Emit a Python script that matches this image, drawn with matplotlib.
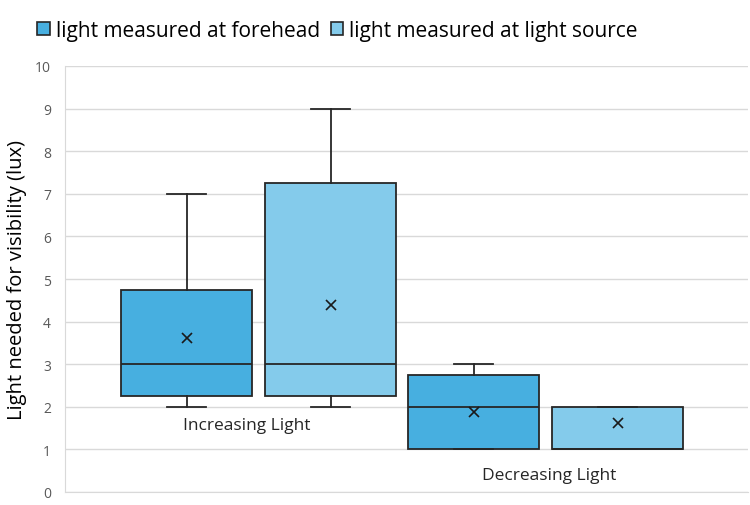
import matplotlib
matplotlib.use("Agg")
import matplotlib.pyplot as plt
from matplotlib.patches import Patch

plt.rcParams['font.family'] = ['Open Sans', 'DejaVu Sans']

categories = ["Increasing Light", "Decreasing Light"]
series = ["light measured at forehead", "light measured at light source"]
colors = ["#47AFE0", "#84CBEB"]

# stats per series, per category: [increasing, decreasing]
whislo = {"forehead": [2, 1], "source": [2, 1]}
q1 = {"forehead": [2.25, 1], "source": [2.25, 1]}
med = {"forehead": [3, 2], "source": [3, 1]}
q3 = {"forehead": [4.75, 2.75], "source": [7.25, 2]}
whishi = {"forehead": [7, 3], "source": [9, 2]}
mean = {"forehead": [3.62, 1.88], "source": [4.38, 1.62]}

fig = plt.figure(figsize=(7.5, 5.06), dpi=100)
ax = fig.add_axes([65/750, 13/506, (748-65)/750, (493-67)/506])

group_centers = [258.5, 545.5]
offset = 72
width = 131
keys = ["forehead", "source"]
for si, key in enumerate(keys):
    stats = []
    pos = []
    for ci in range(len(categories)):
        stats.append(dict(whislo=whislo[key][ci], q1=q1[key][ci], med=med[key][ci],
                          q3=q3[key][ci], whishi=whishi[key][ci], mean=mean[key][ci],
                          fliers=[]))
        pos.append(group_centers[ci] + (offset if si else -offset))
    ax.bxp(stats, positions=pos, widths=width, patch_artist=True, showmeans=True,
           showfliers=False, manage_ticks=False,
           boxprops=dict(facecolor=colors[si], edgecolor="#262626", linewidth=1.3),
           medianprops=dict(color="#262626", linewidth=1.3),
           whiskerprops=dict(color="#262626", linewidth=1.3),
           capprops=dict(color="#262626", linewidth=1.3),
           capwidths=39,
           meanprops=dict(marker="x", markeredgecolor="#1a1a1a", markersize=7,
                          markeredgewidth=1.2, linestyle="none"))

ax.set_xlim(65, 748)
ax.set_ylim(0, 10)
ax.set_yticks(range(0, 11))
ax.set_xticks([])
ax.yaxis.grid(True, color="#D9D9D9", linewidth=1)
ax.set_axisbelow(True)
for s in ["top", "right"]:
    ax.spines[s].set_visible(False)
ax.spines["left"].set_color("#D9D9D9")
ax.spines["bottom"].set_color("#D9D9D9")
ax.tick_params(axis="y", length=0, labelsize=10, labelcolor="#595959", pad=10)
ax.set_ylabel("Light needed for visibility (lux)", fontsize=14.5, color="#000000", labelpad=6)

ax.text(247, 1.58, categories[0], ha="center", va="center", fontsize=12.5, color="#262626")
ax.text(549, 0.4, categories[1], ha="center", va="center", fontsize=12.5, color="#262626")

handles = [Patch(facecolor=colors[i], edgecolor="#262626", linewidth=1.2) for i in range(2)]
fig.legend(handles, series, loc="center left", bbox_to_anchor=(27/750, 1 - 31/506),
           ncol=2, frameon=False, fontsize=15, handlelength=0.6, handleheight=0.6,
           handletextpad=0.3, columnspacing=0.5, borderpad=0)

fig.savefig("out.png", dpi=100)
